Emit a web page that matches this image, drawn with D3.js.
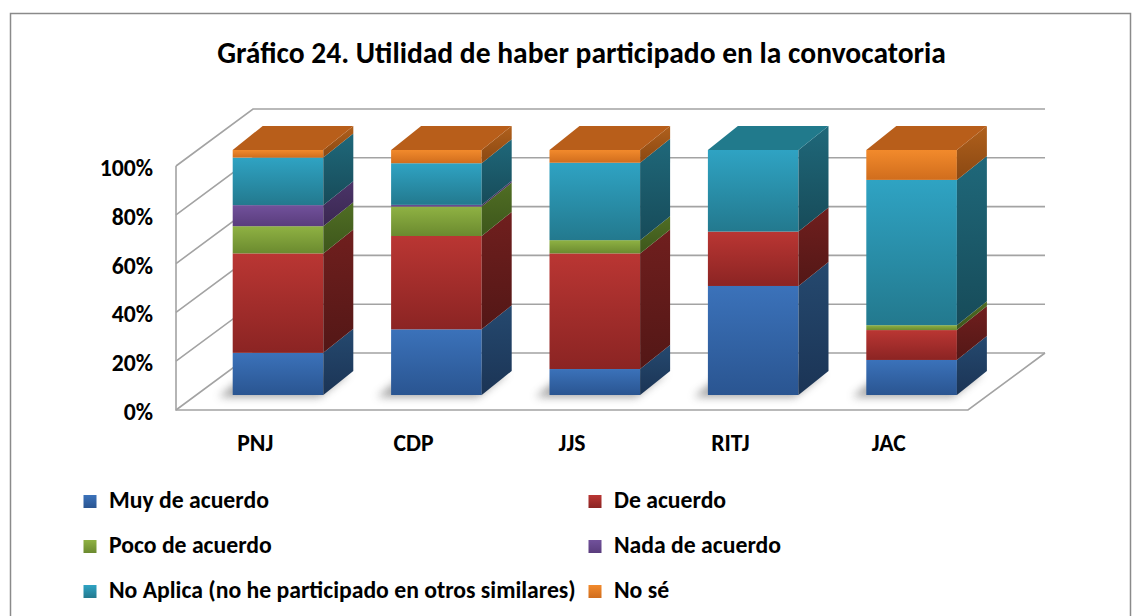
<!DOCTYPE html>
<head>
    <meta charset=utf-8>
    <title>Utilidad de haber participado</title>
    <script src="https://d3js.org/d3.v7.min.js"></script>
    <style>
        body { margin: 0; background: #ffffff; }
        text {
            font-family: Carlito, Calibri, Lato, sans-serif;
            font-weight: bold;
            fill: #000000;
        }
        .grid { stroke: #a3a3a3; stroke-width: 1.6; fill: none; }
    </style>
</head>
<body>
<div id="chart"></div>
<script type="text/javascript">
    // data (percent of answers per programme)
    var categories = ["PNJ", "CDP", "JJS", "RITJ", "JAC"];
    var seriesNames = ["Muy de acuerdo", "De acuerdo", "Poco de acuerdo", "Nada de acuerdo",
                       "No Aplica (no he participado en otros similares)", "No sé"];
    var muyDeAcuerdo  = [17.2, 26.8, 10.6, 44.5, 14.3];
    var deAcuerdo     = [40.6, 38.1, 47.2, 22.2, 12.2];
    var pocoDeAcuerdo = [11.1, 12.0, 5.4, 0, 2.0];
    var nadaDeAcuerdo = [8.6, 0.7, 0, 0, 0];
    var noAplica      = [19.4, 17.0, 31.6, 33.3, 59.3];
    var noSe          = [3.1, 5.4, 5.2, 0, 12.2];
    var yTicks = [0, 0.2, 0.4, 0.6, 0.8, 1];

    var allSeries = [muyDeAcuerdo, deAcuerdo, pocoDeAcuerdo, nadaDeAcuerdo, noAplica, noSe];

    // colours: [front top, front bottom, side top, side bottom, top face]
    var palette = [
        ["#3b72ba", "#2a5591", "#25496f", "#1b3455", "#2d5a92"],
        ["#ba3633", "#8b2423", "#701f1e", "#531716", "#8e2a28"],
        ["#8fb243", "#6b8a2f", "#506e24", "#3d561b", "#6f8f31"],
        ["#71519b", "#5a3d7d", "#4b3468", "#3a2851", "#5a3f7c"],
        ["#2fa3c3", "#23798e", "#1f687a", "#174b59", "#217a8c"],
        ["#f28a2c", "#d06d1d", "#b0601c", "#8a4812", "#b85e1a"]
    ];

    var table = categories.map(function (c, i) {
        var row = {cat: c};
        seriesNames.forEach(function (s, k) { row[s] = allSeries[k][i]; });
        return row;
    });
    var stacked = d3.stack().keys(seriesNames).offset(d3.stackOffsetExpand)(table);

    var svg_dx = 1140, svg_dy = 616;
    var svg = d3.select("#chart").append("svg")
        .attr("width", svg_dx).attr("height", svg_dy);

    // floor / walls geometry (oblique 3D)
    var floorLeft = 176, floorRight = 968, floorFront = 410;
    var depthX = 77, depthY = 57;
    var barDX = 30, barDY = 24;

    var x = d3.scaleBand().domain(categories).range([floorLeft, floorRight]).paddingInner(0).paddingOuter(0);
    var yAxis = d3.scaleLinear().domain([0, 1]).range([floorFront, 166]);
    var yBar = d3.scaleLinear().domain([0, 1]).range([395, 150]);
    var barW = 90.6, barShift = 22.8;

    var defs = svg.append("defs");
    palette.forEach(function (p, k) {
        var g = defs.append("linearGradient").attr("id", "front" + k)
            .attr("x1", 0).attr("y1", 0).attr("x2", 0).attr("y2", 1);
        g.append("stop").attr("offset", "0%").attr("stop-color", p[0]);
        g.append("stop").attr("offset", "100%").attr("stop-color", p[1]);
        var s = defs.append("linearGradient").attr("id", "side" + k)
            .attr("x1", 0).attr("y1", 0).attr("x2", 0).attr("y2", 1);
        s.append("stop").attr("offset", "0%").attr("stop-color", p[2]);
        s.append("stop").attr("offset", "100%").attr("stop-color", p[3]);
    });
    defs.append("filter").attr("id", "blur")
        .attr("x", "-50%").attr("y", "-50%").attr("width", "200%").attr("height", "200%")
        .append("feGaussianBlur").attr("stdDeviation", 4);

    // outer border
    svg.append("rect")
        .attr("x", 10.5).attr("y", 13.5).attr("width", 1120).attr("height", 640)
        .attr("fill", "none").attr("stroke", "#8a8a8a").attr("stroke-width", 1.5);

    // title
    var title = svg.append("text")
        .attr("x", 581.5).attr("y", 63)
        .attr("text-anchor", "middle")
        .style("font-size", "28px")
        .text("Gráfico 24. Utilidad de haber participado en la convocatoria");
    var tl = title.node().getComputedTextLength();
    title.style("font-size", (28 * 729 / tl) + "px");

    // gridlines: left wall diagonals + back wall horizontals
    var grid = svg.append("g");
    yTicks.forEach(function (t) {
        var yf = yAxis(t);
        grid.append("path").attr("class", "grid")
            .attr("d", "M" + floorLeft + "," + yf + "L" + (floorLeft + depthX) + "," + (yf - depthY)
                + "L" + (floorRight + depthX) + "," + (yf - depthY));
    });
    // floor front and right edges, front vertical axis
    grid.append("path").attr("class", "grid")
        .attr("d", "M" + (floorRight + depthX) + "," + (floorFront - depthY)
            + "L" + floorRight + "," + floorFront + "L" + floorLeft + "," + floorFront
            + "L" + floorLeft + "," + yAxis(1));

    // bar shadows
    svg.append("g").selectAll("path")
        .data(categories)
        .join("path")
        .attr("d", function (c) {
            var x0 = x(c) + x.bandwidth() / 2 + barShift - barW / 2 - 14;
            var y0 = yBar(0) + 2;
            return "M" + x0 + "," + y0 + "L" + (x0 + barW + 10) + "," + y0
                + "L" + (x0 + barW + 10 + barDX) + "," + (y0 - barDY)
                + "L" + (x0 + barDX) + "," + (y0 - barDY) + "Z";
        })
        .attr("fill", "#555").attr("opacity", 0.55)
        .attr("filter", "url(#blur)");

    // bars
    var bars = svg.append("g");
    categories.forEach(function (c, i) {
        var x0 = x(c) + x.bandwidth() / 2 + barShift - barW / 2;
        var x1 = x0 + barW;
        var g = bars.append("g");
        var topIdx = -1;
        stacked.forEach(function (layer, k) {
            var d = layer[i];
            if (d[1] - d[0] <= 0) return;
            topIdx = k;
            var yt = yBar(d[1]), yb = yBar(d[0]);
            g.append("rect")
                .attr("x", x0).attr("y", yt)
                .attr("width", barW).attr("height", yb - yt)
                .attr("fill", "url(#front" + k + ")");
            g.append("path")
                .attr("d", "M" + x1 + "," + yt + "L" + x1 + "," + yb
                    + "L" + (x1 + barDX) + "," + (yb - barDY)
                    + "L" + (x1 + barDX) + "," + (yt - barDY) + "Z")
                .attr("fill", "url(#side" + k + ")");
        });
        var yTop = yBar(1);
        g.append("path")
            .attr("d", "M" + x0 + "," + yTop + "L" + x1 + "," + yTop
                + "L" + (x1 + barDX) + "," + (yTop - barDY)
                + "L" + (x0 + barDX) + "," + (yTop - barDY) + "Z")
            .attr("fill", palette[topIdx][4]);
    });

    // small text size: fit legend sample to the reference width
    var probe = svg.append("text").style("font-size", "20px").text("Muy de acuerdo");
    var smallSize = 20 * 160 / probe.node().getComputedTextLength();
    probe.remove();

    // y labels
    var fmt = d3.format(".0%");
    svg.append("g").selectAll("text")
        .data(yTicks)
        .join("text")
        .attr("x", 153)
        .attr("y", function (t) { return yAxis(t) + 10; })
        .attr("text-anchor", "end")
        .style("font-size", smallSize + "px")
        .text(fmt);

    // category labels
    svg.append("g").selectAll("text")
        .data(categories)
        .join("text")
        .attr("x", function (c) { return x(c) + x.bandwidth() / 2; })
        .attr("y", 451)
        .attr("text-anchor", "middle")
        .style("font-size", smallSize + "px")
        .text(function (c) { return c; });

    // legend
    var legend = svg.append("g");
    seriesNames.forEach(function (s, k) {
        var col = k % 2, row = Math.floor(k / 2);
        var lx = col === 0 ? 83.5 : 588.5;
        var ly = 495 + row * 45;
        legend.append("rect")
            .attr("x", lx).attr("y", ly).attr("width", 13).attr("height", 13)
            .attr("fill", "url(#front" + k + ")");
        legend.append("text")
            .attr("x", lx + 25.5).attr("y", ly + 12.5)
            .style("font-size", smallSize + "px")
            .text(s);
    });
</script>
</body>
